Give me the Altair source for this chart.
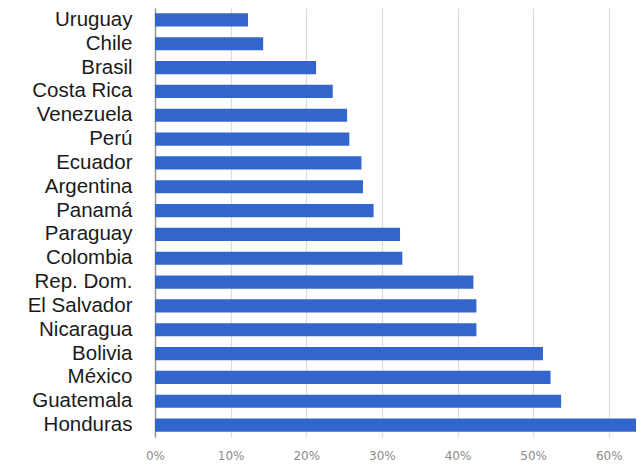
import altair as alt
import pandas as pd

countries = ["Uruguay", "Chile", "Brasil", "Costa Rica", "Venezuela", "Perú", "Ecuador",
             "Argentina", "Panamá", "Paraguay", "Colombia", "Rep. Dom.", "El Salvador",
             "Nicaragua", "Bolivia", "México", "Guatemala", "Honduras"]
values = [0.123, 0.143, 0.213, 0.235, 0.254, 0.257, 0.273, 0.275, 0.289, 0.324, 0.327,
          0.421, 0.425, 0.425, 0.513, 0.523, 0.537, 0.67]
ticks = [0, 0.1, 0.2, 0.3, 0.4, 0.5, 0.6]

df = pd.DataFrame({"pais": countries, "valor": values})

chart = alt.Chart(df).mark_bar(color="#3366cc", clip=True).encode(
    y=alt.Y("pais:N", sort=countries, title=None,
            scale=alt.Scale(paddingInner=0.45, paddingOuter=0.225),
            axis=alt.Axis(labelFont="Liberation Sans", labelFontSize=20.5, labelColor="#1a1a1a",
                          labelPadding=23, ticks=False, domainColor="#999",
                          domainWidth=1.5, labelLimit=300)),
    x=alt.X("valor:Q", title=None,
            scale=alt.Scale(domain=[0, 0.636], nice=False, zero=True),
            axis=alt.Axis(values=ticks, format=".0%", labelFont="DejaVu Sans",
                          labelFontSize=12, labelColor="#8a8a8a", ticks=False, domain=False,
                          grid=True, gridColor="#dcdcdc", gridWidth=1.2, labelPadding=13,
                          labelFlush=False)),
).properties(
    width=481, height=429,
    autosize=alt.AutoSizeParams(type="none"),
    padding={"left": 147, "top": 0, "right": 0, "bottom": 24},
).configure_view(stroke=None)

chart.save("out.html", embed_options={"renderer": "svg", "actions": False})
